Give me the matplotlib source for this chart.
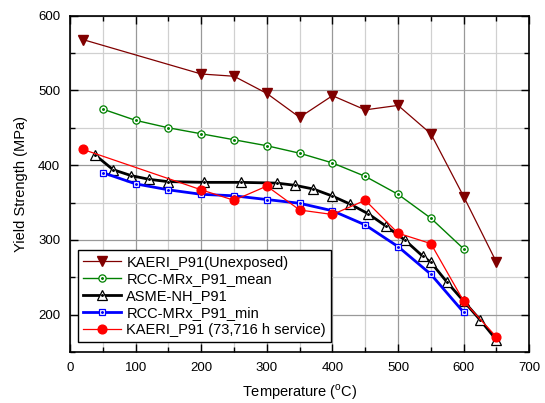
import numpy as np
import matplotlib
matplotlib.use("Agg")
import matplotlib.pyplot as plt
from matplotlib.legend_handler import HandlerTuple
from matplotlib.ticker import MultipleLocator

plt.rcParams['font.family'] = ['Liberation Sans', 'DejaVu Sans']
plt.rcParams['mathtext.fontset'] = 'custom'
plt.rcParams['mathtext.rm'] = 'Liberation Sans'

# KAERI P91, unexposed
t_unexp = [20, 200, 250, 300, 350, 400, 450, 500, 550, 600, 650]
ys_unexp = [568, 522, 519, 496, 464, 493, 474, 480, 442, 358, 270]

# RCC-MRx P91 mean
t_rcc_mean = [50, 100, 150, 200, 250, 300, 350, 400, 450, 500, 550, 600]
ys_rcc_mean = [475, 460, 450, 442, 434, 426, 416, 403, 385, 361, 329, 288]

# ASME-NH P91
t_asme = [37.8, 65.6, 93.3, 121.1, 148.9, 204.4, 260, 315.6, 343.3, 371.1,
          398.9, 426.7, 454.4, 482.2, 510, 537.8, 550, 575, 600, 625, 650]
ys_asme = [414, 394, 386, 381, 378, 377, 377, 376, 373, 368,
           359, 348, 335, 318, 300, 278, 270, 243, 218, 193, 166]

# RCC-MRx P91 min
t_rcc_min = [50, 100, 150, 200, 250, 300, 350, 400, 450, 500, 550, 600]
ys_rcc_min = [390, 375, 367, 361, 359, 354, 349, 339, 320, 291, 254, 203]

# KAERI P91 after 73,716 h service
t_serv = [20, 200, 250, 300, 350, 400, 450, 500, 550, 600, 650]
ys_serv = [421, 367, 353, 372, 340, 334, 353, 309, 295, 218, 170]

fig = plt.figure(figsize=(5.45, 4.03), dpi=100)
ax = fig.add_axes([0.1284, 0.1266, 0.8428, 0.8344])

dot = dict(ls='none', marker='o', ms=1.1)

l1, = ax.plot(t_unexp, ys_unexp, color='#800000', lw=0.9, marker='v',
              ms=7.5, mfc='#800000', mec='#800000', zorder=5)
l2, = ax.plot(t_rcc_mean, ys_rcc_mean, color='#008000', lw=1.0, marker='o',
              ms=5.2, mfc='white', mec='#008000', mew=0.9, zorder=4)
d2, = ax.plot(t_rcc_mean, ys_rcc_mean, color='#008000', zorder=4.1, **dot)
l3, = ax.plot(t_asme, ys_asme, color='black', lw=2.0, marker='^',
              ms=6.5, mfc='white', mec='black', mew=0.9, zorder=3)
d3, = ax.plot(t_asme, ys_asme, color='black', zorder=3.1, **dot)
l4, = ax.plot(t_rcc_min, ys_rcc_min, color='#0000FF', lw=2.0, marker='s',
              ms=5, mfc='white', mec='#0000FF', mew=0.9, zorder=3.5)
d4, = ax.plot(t_rcc_min, ys_rcc_min, color='#0000FF', zorder=3.6, **dot)
l5, = ax.plot(t_serv, ys_serv, color='#FF0000', lw=0.9, marker='o',
              ms=6.3, mfc='#FF0000', mec='#FF0000', zorder=6)

ax.set_xlim(0, 700)
ax.set_ylim(150, 600)
ax.xaxis.set_major_locator(MultipleLocator(100))
ax.xaxis.set_minor_locator(MultipleLocator(50))
ax.yaxis.set_major_locator(MultipleLocator(100))
ax.yaxis.set_minor_locator(MultipleLocator(50))
ax.set_yticks([200, 300, 400, 500, 600])

ax.grid(which='major', color='#999999', lw=0.9)
ax.grid(which='minor', color='#d0d0d0', lw=0.9)
ax.set_axisbelow(True)

ax.tick_params(which='both', direction='in', top=True, right=True,
               labelsize=9.5, width=1)
ax.tick_params(which='major', length=6, pad=7)
ax.tick_params(which='minor', length=3.5)
for s in ax.spines.values():
    s.set_linewidth(1.2)

ax.set_xlabel(r'Temperature ($^{\mathrm{o}}$C)', fontsize=10.5, labelpad=6)
ax.set_ylabel('Yield Strength (MPa)', fontsize=10.5, labelpad=7)

leg = ax.legend([l1, (l2, d2), (l3, d3), (l4, d4), l5],
                ['KAERI_P91(Unexposed)', 'RCC-MRx_P91_mean', 'ASME-NH_P91',
                 'RCC-MRx_P91_min', 'KAERI_P91 (73,716 h service)'],
                handler_map={tuple: HandlerTuple(ndivide=1)},
                loc='upper left', bbox_to_anchor=(0.018, 0.302),
                fontsize=10.5, frameon=True, fancybox=False,
                edgecolor='black', framealpha=1, borderpad=0.35,
                labelspacing=0.2, handlelength=2.6, handletextpad=0.35,
                borderaxespad=0)
leg.get_frame().set_linewidth(1.0)
leg.set_zorder(10)

fig.savefig('out.png', dpi=100)
